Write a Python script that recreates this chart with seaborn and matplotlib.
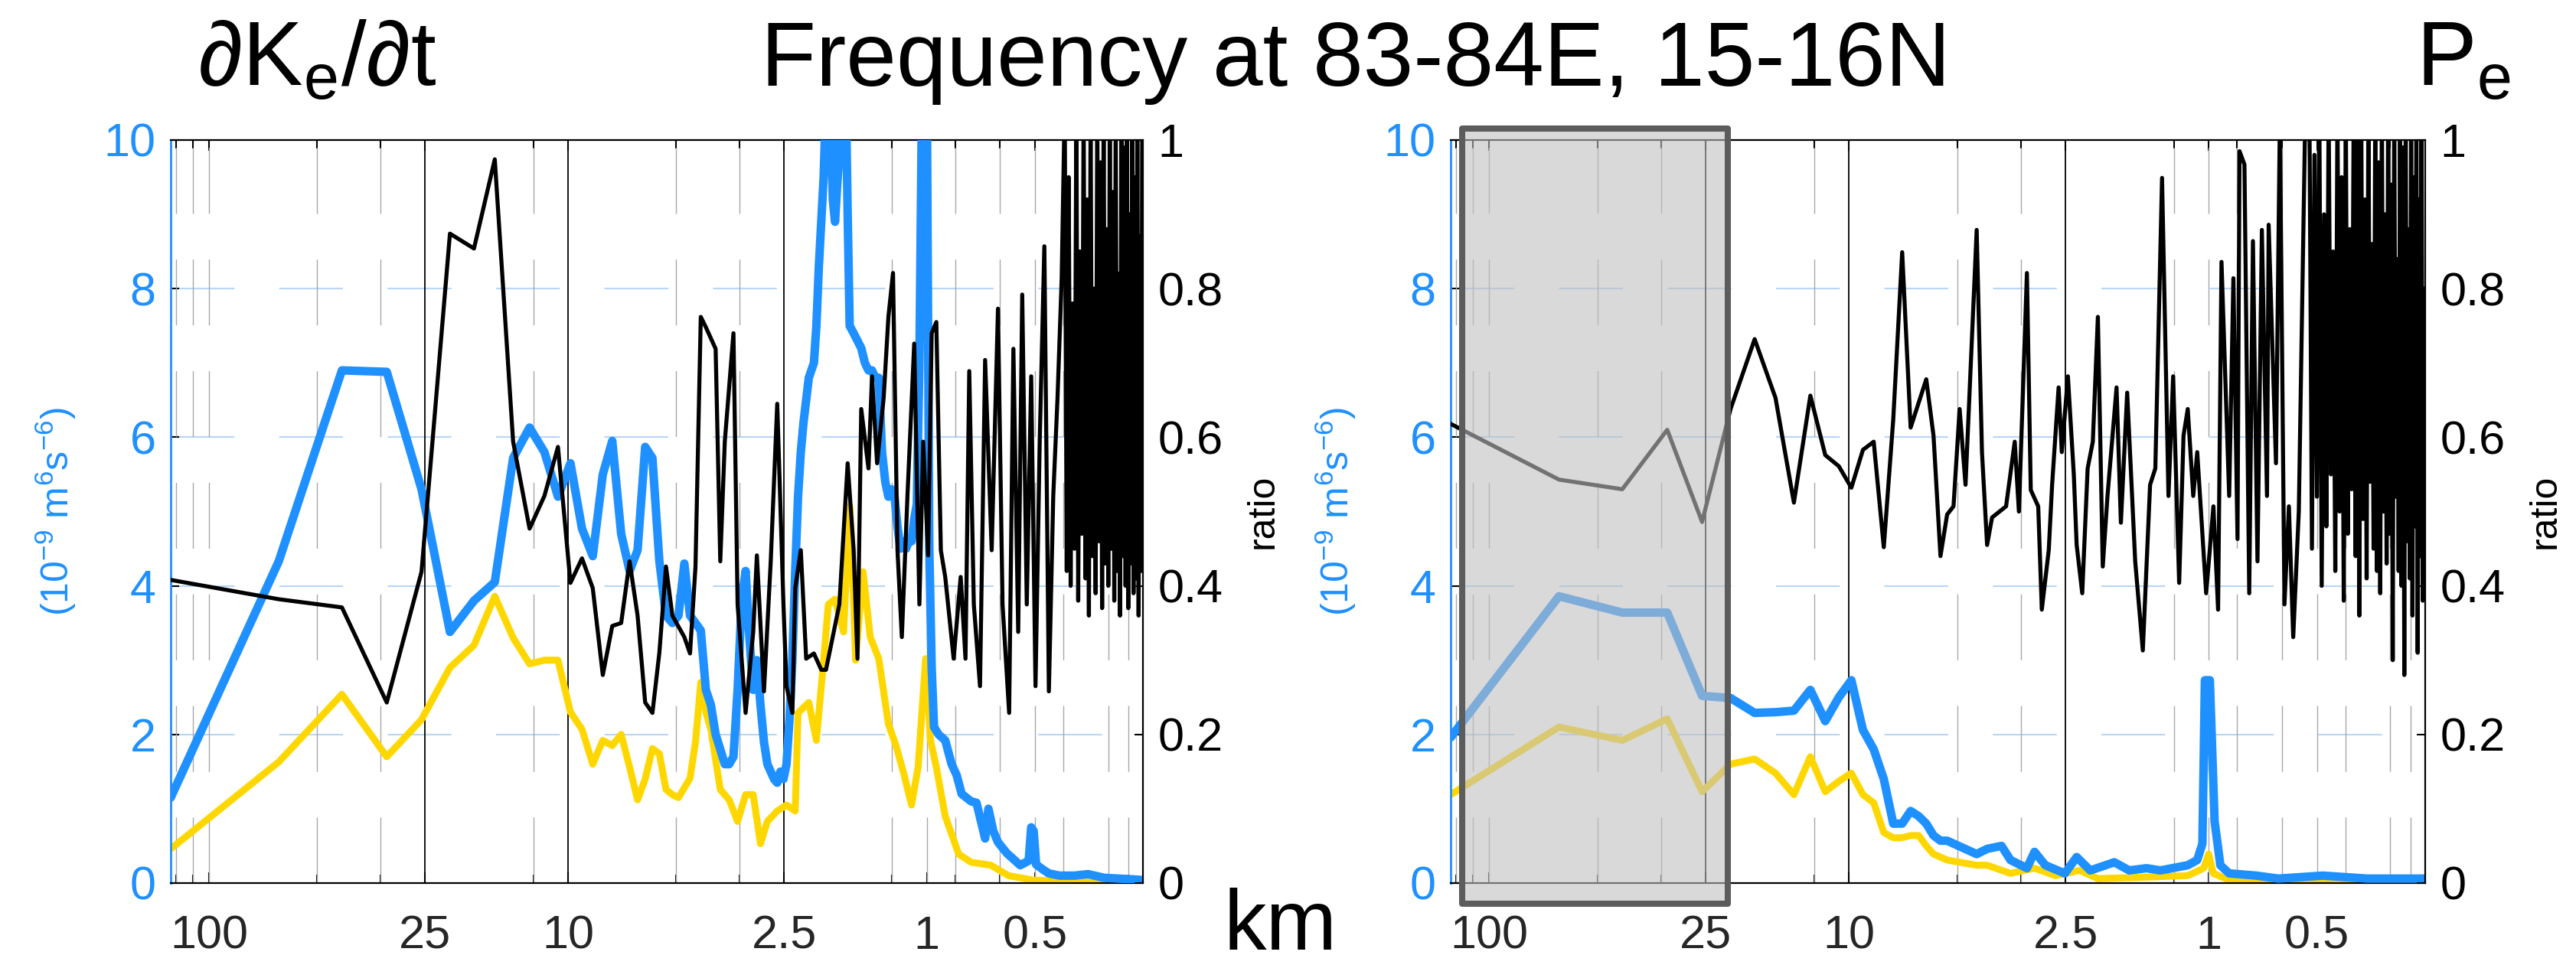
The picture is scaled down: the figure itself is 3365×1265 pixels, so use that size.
# Frequency spectra at 83-84E, 15-16N : dKe/dt (left) and Pe (right)
import numpy as np
import matplotlib
matplotlib.use('Agg')
import matplotlib.pyplot as plt
import matplotlib.transforms as mtransforms
from matplotlib.patches import Rectangle
from matplotlib.ticker import FixedLocator, NullFormatter
import seaborn as sns

sns.set_theme(style='white')
plt.rcParams['font.family'] = ['Liberation Sans', 'DejaVu Sans']
plt.rcParams['mathtext.fontset'] = 'custom'
plt.rcParams['mathtext.rm'] = 'Liberation Sans'
plt.rcParams['mathtext.it'] = 'Liberation Sans:italic'
plt.rcParams['mathtext.bf'] = 'Liberation Sans:bold'

BLUE = '#1e90ff'
GOLD = '#ffd700'
GRIDBLUE = '#b8d6f6'
GRIDGRAY = '#a8a8a8'

# wavelength (km) = DOMAIN_KM / k, k = wavenumber index
DOMAIN_KM = 128

xtick_km = [100, 25, 10, 2.5, 1, 0.5]
xtick_labels = ['100', '25', '10', '2.5', '1', '0.5']
solid_km = [25, 10, 2.5]
dotted_km = [123.5, 111, 100, 50, 33.3, 12.5, 5, 3.33, 1.25, 1, 0.833,
             0.625, 0.5, 0.417, 0.3125, 0.275]
yticks_left = [0, 2, 4, 6, 8, 10]
yticks_right = [0, 0.2, 0.4, 0.6, 0.8, 1]
yticks_right_labels = ['0', '0.2', '0.4', '0.6', '0.8', '1']

# ---------------- left panel: dKe/dt ----------------
left_blue = [(1, 1.15), (2, 4.33), (3, 6.9), (4, 6.88), (5, 5.3), (6, 3.38), (7, 3.8),
             (8, 4.05), (9, 5.72), (10, 6.13), (11, 5.8), (12, 5.2), (13, 5.65),
             (14, 4.77), (15, 4.4), (16, 5.5), (17, 5.95), (18, 4.7), (19, 4.2),
             (20, 4.48), (21, 5.87), (22, 5.72), (23, 4.33), (24, 3.6), (25, 3.5),
             (26, 3.6), (27, 4.3), (28, 3.6), (29, 3.5), (30, 3.4), (31, 2.6), (32, 2.4),
             (33, 2.0), (34, 1.8), (35, 1.6), (36, 1.6), (37, 1.7), (38, 2.6), (39, 3.8),
             (40, 4.2), (41, 3.3), (42, 2.6), (43, 3.0), (44, 2.4), (45, 1.9), (46, 1.6),
             (47, 1.5), (48, 1.4), (49, 1.35), (50, 1.5), (51, 1.4), (52, 1.6), (53, 2.2),
             (54, 3.0), (55, 4.2), (56, 5.2), (57, 5.8), (58, 6.2), (59, 6.5), (60, 6.8),
             (62, 7.0), (63, 7.5), (64, 8.3), (65, 8.9), (66, 9.5), (67, 10.5), (68, 11),
             (69, 10.5), (70, 9.2), (71, 8.9), (72, 9.4), (73, 9.8), (74, 10.6), (75, 11),
             (76, 10.8), (77, 9.0), (78, 7.5), (80, 7.4), (82, 7.3), (84, 7.2), (86, 7.0),
             (88, 6.9), (90, 6.9), (92, 6.8), (94, 6.8), (96, 5.8), (98, 5.4), (100, 5.2),
             (102, 5.3), (104, 5.2), (106, 4.8), (108, 4.5), (110, 4.6), (112, 4.5),
             (114, 4.6), (116, 4.6), (118, 4.9), (120, 5.1), (122, 7.0), (124, 10.5),
             (126, 11), (128, 10.5), (130, 4.5), (132, 2.9), (134, 2.1), (138, 2.0),
             (144, 1.92), (150, 1.6), (155, 1.45), (160, 1.2), (170, 1.1), (176, 1.08),
             (186, 0.6), (190, 1.0), (196, 0.7), (202, 0.55), (214, 0.4), (233, 0.24),
             (246, 0.3), (250, 0.75), (254, 0.7), (258, 0.25), (270, 0.18), (280, 0.13),
             (300, 0.1), (330, 0.1), (360, 0.12), (400, 0.07), (440, 0.06), (480, 0.05),
             (512, 0.04)]

left_yellow = [(1, 0.46), (2, 1.63), (3, 2.54), (4, 1.7), (5, 2.2), (6, 2.9), (7, 3.2),
               (8, 3.86), (9, 3.3), (10, 2.95), (11, 3.0), (12, 3.0), (13, 2.3), (14, 2.07),
               (15, 1.6), (16, 1.92), (17, 1.85), (18, 2.0), (19, 1.56), (20, 1.12),
               (21, 1.4), (22, 1.81), (23, 1.74), (24, 1.26), (25, 1.19), (26, 1.15),
               (28, 1.41), (29, 1.9), (30, 2.7), (31, 2.3), (32, 2.07), (34, 1.26),
               (36, 1.12), (38, 0.83), (40, 1.19), (42, 1.19), (44, 0.53), (46, 0.83),
               (49, 0.97), (52, 1.05), (55, 0.97), (56, 2.29), (60, 2.43), (63, 1.92),
               (66, 3.0), (68, 3.75), (71, 3.82), (75, 3.38), (78, 5.07), (79, 4.6),
               (81, 3.0), (83, 3.6), (85, 4.19), (89, 3.31), (94, 3.02), (100, 2.14),
               (105, 1.85), (110, 1.5), (116, 1.05), (121, 1.56), (127, 3.02), (131, 1.92),
               (136, 1.56), (144, 0.9), (157, 0.39), (170, 0.28), (193, 0.24), (216, 0.1),
               (253, 0.04), (376, 0.01), (512, 0.0)]

left_ratio = [(1, 0.408), (2, 0.382), (3, 0.371), (4, 0.243), (5, 0.419), (6, 0.874),
              (7, 0.854), (8, 0.974), (9, 0.594), (10, 0.477), (11, 0.521), (12, 0.587),
              (13, 0.404), (14, 0.437), (15, 0.397), (16, 0.28), (17, 0.346), (18, 0.35),
              (19, 0.433), (20, 0.36), (21, 0.243), (22, 0.229), (23, 0.31), (24, 0.426),
              (25, 0.36), (27, 0.331), (28, 0.309), (29, 0.426), (30, 0.762), (31, 0.748),
              (33, 0.719), (34, 0.433), (35, 0.594), (37, 0.74), (38, 0.375), (40, 0.229),
              (42, 0.338), (43, 0.441), (45, 0.258), (47, 0.433), (49, 0.645), (51, 0.375),
              (52, 0.265), (54, 0.229), (55, 0.397), (57, 0.448), (59, 0.302), (62, 0.309),
              (65, 0.287), (67, 0.287), (69, 0.317), (73, 0.375), (77, 0.565), (80, 0.448),
              (82, 0.302), (84, 0.638), (88, 0.558), (90, 0.682), (93, 0.565), (97, 0.653),
              (100, 0.762), (103, 0.821), (106, 0.448), (109, 0.331), (113, 0.521),
              (118, 0.726), (122, 0.375), (125, 0.594), (129, 0.441), (132, 0.74),
              (136, 0.755), (140, 0.448), (144, 0.412), (152, 0.302), (159, 0.412),
              (164, 0.302), (168, 0.689), (173, 0.375), (180, 0.265), (186, 0.704),
              (194, 0.448), (202, 0.773), (208, 0.375), (217, 0.229), (223, 0.719),
              (230, 0.338), (236, 0.792), (243, 0.375), (250, 0.682), (257, 0.265),
              (264, 0.594), (272, 0.857), (280, 0.258), (288, 0.521), (296, 0.653),
              (304, 0.814)]

# densely oscillating tail, k = 310, 314, ... 510
left_ratio_tail_start = 310
left_ratio_tail = [1.05, 0.42, 0.95, 0.40, 0.78, 0.45, 1.05, 0.38, 0.85, 0.47,
                   1.05, 0.41, 0.92, 0.36, 1.05, 0.44, 0.80, 0.39, 1.05, 0.46,
                   0.97, 0.37, 1.05, 0.43, 0.88, 0.40, 1.05, 0.45, 0.93, 0.38,
                   1.05, 0.42, 0.82, 0.36, 1.05, 0.44, 0.99, 0.40, 1.05, 0.37,
                   0.90, 0.43, 1.05, 0.39, 0.95, 0.41, 1.05, 0.36, 0.87, 0.42, 1.05]

# ---------------- right panel: Pe ----------------
right_blue = [(1, 1.96), (2, 3.86), (3, 3.64), (4, 3.64), (5, 2.52), (6, 2.49), (7, 2.29),
              (8, 2.3), (9, 2.32), (10, 2.6), (11, 2.18), (12, 2.5), (13, 2.73), (14, 2.06),
              (15, 1.8), (16, 1.4), (17, 0.8), (18, 0.8), (19, 0.97), (20, 0.9), (21, 0.8),
              (22, 0.64), (23, 0.57), (24, 0.57), (29, 0.39), (31, 0.46), (34, 0.5),
              (36, 0.31), (40, 0.2), (42, 0.42), (45, 0.24), (51, 0.13), (55, 0.35),
              (60, 0.17), (70, 0.28), (77, 0.17), (86, 0.2), (94, 0.17), (112, 0.24),
              (119, 0.31), (123, 0.53), (125, 2.73), (129, 2.73), (133, 0.83), (138, 0.24),
              (146, 0.13), (174, 0.1), (200, 0.06), (266, 0.1), (354, 0.06), (512, 0.06)]

right_yellow = [(1, 1.19), (2, 2.1), (3, 1.92), (4, 2.21), (5, 1.23), (6, 1.6), (7, 1.67),
                (8, 1.48), (9, 1.19), (10, 1.7), (11, 1.23), (12, 1.37), (13, 1.48),
                (14, 1.19), (15, 1.08), (16, 0.68), (17, 0.61), (18, 0.61), (19, 0.64),
                (20, 0.64), (21, 0.5), (22, 0.39), (24, 0.31), (29, 0.24), (31, 0.24),
                (36, 0.13), (42, 0.2), (48, 0.1), (56, 0.17), (63, 0.06), (86, 0.08),
                (112, 0.1), (124, 0.2), (128, 0.39), (132, 0.13), (146, 0.04), (200, 0.02),
                (512, 0.01)]

right_ratio = [(1, 0.618), (2, 0.543), (3, 0.53), (4, 0.61), (5, 0.486), (6, 0.638),
               (7, 0.732), (8, 0.653), (9, 0.512), (10, 0.656), (11, 0.576), (12, 0.561),
               (13, 0.532), (14, 0.583), (15, 0.594), (16, 0.452), (17, 0.624), (18, 0.849),
               (19, 0.613), (21, 0.678), (22, 0.602), (23, 0.44), (24, 0.496), (25, 0.507),
               (26, 0.638), (27, 0.536), (29, 0.879), (30, 0.58), (31, 0.455), (32, 0.492),
               (35, 0.507), (37, 0.594), (38, 0.5), (40, 0.821), (41, 0.529), (43, 0.507),
               (44, 0.368), (46, 0.448), (47, 0.536), (49, 0.667), (50, 0.58), (52, 0.682),
               (54, 0.55), (55, 0.455), (57, 0.39), (59, 0.558), (61, 0.594), (63, 0.762),
               (65, 0.426), (67, 0.521), (71, 0.667), (73, 0.485), (76, 0.66), (80, 0.433),
               (84, 0.313), (88, 0.536), (91, 0.558), (95, 0.949), (99, 0.521), (102, 0.682),
               (106, 0.404), (109, 0.602), (112, 0.638), (116, 0.521), (119, 0.58),
               (126, 0.39), (132, 0.507), (136, 0.368), (139, 0.836), (146, 0.521),
               (150, 0.814), (154, 0.463), (156, 0.985), (161, 0.967), (166, 0.39),
               (170, 0.864), (175, 0.433), (180, 0.879), (186, 0.521), (188, 0.886),
               (197, 0.565), (202, 1.03), (208, 0.375), (214, 0.507), (220, 0.331),
               (228, 0.5), (237, 1.0)]

# densely oscillating tail, k = 244, 248, ... 512
right_ratio_tail_start = 244
right_ratio_tail = [1.05, 0.45, 0.98, 0.52, 1.05, 0.40, 0.90, 0.48, 1.05, 0.55,
                    0.85, 0.42, 1.05, 0.50, 0.95, 0.38, 1.05, 0.47, 0.88, 0.53,
                    1.05, 0.44, 1.00, 0.36, 1.05, 0.49, 0.92, 0.41, 1.05, 0.54,
                    0.86, 0.45, 1.05, 0.42, 0.97, 0.39, 1.05, 0.50, 0.90, 0.43,
                    1.05, 0.47, 0.94, 0.30, 1.05, 0.52, 0.84, 0.42, 1.05, 0.40,
                    0.99, 0.28, 1.05, 0.46, 0.88, 0.41, 1.05, 0.36, 0.95, 0.48,
                    1.05, 0.31, 0.92, 0.44, 1.05, 0.38, 0.80, 0.45]

# shaded box on the right panel (km)
box_km = (118.9, 21.7)


def to_xy(pairs):
    arr = np.array(pairs, dtype=float)
    return DOMAIN_KM / arr[:, 0], arr[:, 1]


def with_tail(pairs, start, tail):
    k_tail = start + 4 * np.arange(len(tail))
    x, y = to_xy(pairs)
    return (np.concatenate([x, DOMAIN_KM / k_tail]),
            np.concatenate([y, np.array(tail, dtype=float)]))


def draw_panel(ax, blue, yellow, ratio_x, ratio_y, box=None):
    ax.set_xscale('log')
    for y in [2, 4, 6, 8]:
        ax.axhline(y, color=GRIDBLUE, lw=1.5, dashes=(40, 28), zorder=0.5)
    for xv in dotted_km:
        ax.axvline(xv, color=GRIDGRAY, lw=1.0, dashes=(62, 43), zorder=0.6)
    for xv in solid_km:
        ax.axvline(xv, color='black', lw=1.3, zorder=0.7)

    bx, by = to_xy(blue)
    yx, yy = to_xy(yellow)
    sns.lineplot(x=yx, y=yy, ax=ax, color=GOLD, linewidth=6.5,
                 estimator=None, sort=False, legend=False, zorder=2)
    sns.lineplot(x=bx, y=by, ax=ax, color=BLUE, linewidth=8.0,
                 estimator=None, sort=False, legend=False, zorder=3)

    ax.set_xlim(DOMAIN_KM, DOMAIN_KM / 512)
    ax.set_ylim(0, 10)
    ax.set_xticks(xtick_km, labels=xtick_labels)
    ax.xaxis.set_minor_locator(FixedLocator(dotted_km))
    ax.xaxis.set_minor_formatter(NullFormatter())
    ax.set_yticks(yticks_left)
    ax.tick_params(axis='x', which='both', direction='in', top=True, bottom=True,
                   labelsize=44, pad=30, color='black', width=1.5)
    ax.tick_params(axis='x', which='major', length=10)
    ax.tick_params(axis='x', which='minor', length=8)
    ax.tick_params(axis='y', direction='in', left=True, right=False, length=8,
                   labelsize=44, labelcolor=BLUE, pad=14, color='black', width=1.5)
    ax.set_xlabel('')
    ax.set_ylabel('(10$^{-9}$ m$^{6}$s$^{-6}$)', color=BLUE, fontsize=36)
    ax.yaxis.set_label_coords(-0.095, 0.5)
    for side in ['top', 'bottom']:
        ax.spines[side].set_color('black')
        ax.spines[side].set_linewidth(1.6)
    ax.spines['left'].set_color(BLUE)
    ax.spines['left'].set_linewidth(2.0)
    ax.spines['right'].set_visible(False)

    ax2 = ax.twinx()
    sns.lineplot(x=ratio_x, y=ratio_y, ax=ax2, color='black', linewidth=3.8,
                 estimator=None, sort=False, legend=False, zorder=4)
    ax2.set_ylim(0, 1)
    ax2.set_xlim(DOMAIN_KM, DOMAIN_KM / 512)
    ax2.set_yticks(yticks_right, labels=yticks_right_labels)
    ax2.tick_params(axis='y', direction='in', right=True, left=False, length=8,
                    labelsize=44, labelcolor='black', pad=14, color='black', width=1.5)
    ax2.set_ylabel('ratio', fontsize=36, color='black', rotation=90)
    ax2.yaxis.set_label_coords(1.105, 0.5)
    for side in ['left', 'top', 'bottom']:
        ax2.spines[side].set_visible(False)
    ax2.spines['right'].set_color('black')
    ax2.spines['right'].set_linewidth(1.6)

    if box is not None:
        trans = mtransforms.blended_transform_factory(ax2.transData, ax2.transAxes)
        x_hi, x_lo = box
        y0, y1 = -0.028, 1.0155
        fill = Rectangle((x_lo, y0), x_hi - x_lo, y1 - y0, transform=trans,
                         facecolor='#c0c0c0', edgecolor='none', alpha=0.6,
                         clip_on=False, zorder=10)
        edge = Rectangle((x_lo, y0), x_hi - x_lo, y1 - y0, transform=trans,
                         facecolor='none', edgecolor='#5c5c5c', linewidth=5.8,
                         joinstyle='round', clip_on=False, zorder=11)
        ax2.add_patch(fill)
        ax2.add_patch(edge)
    return ax2


fig = plt.figure(figsize=(33.66, 12.65), dpi=100)
ax_left = fig.add_axes([0.06625, 0.08775, 0.3773, 0.7676])
ax_right = fig.add_axes([0.56298, 0.08775, 0.37819, 0.7676])

lrx, lry = with_tail(left_ratio, left_ratio_tail_start, left_ratio_tail)
rrx, rry = with_tail(right_ratio, right_ratio_tail_start, right_ratio_tail)

draw_panel(ax_left, left_blue, left_yellow, lrx, lry)
draw_panel(ax_right, right_blue, right_yellow, rrx, rry, box=box_km)

fig.text(0.526, 0.9115, 'Frequency at 83-84E, 15-16N', ha='center', va='baseline',
         fontsize=85, color='black')
fig.text(0.0766, 0.9115, '\u2202K$_{\\mathregular{e}}$/\u2202t', ha='left', va='baseline',
         fontsize=85, color='black')
fig.text(0.9376, 0.9115, 'P$_{\\mathregular{e}}$', ha='left', va='baseline',
         fontsize=85, color='black')
fig.text(0.475, 0.019, 'km', ha='left', va='baseline', fontsize=80, color='black')

fig.savefig('out.png', dpi=100)
